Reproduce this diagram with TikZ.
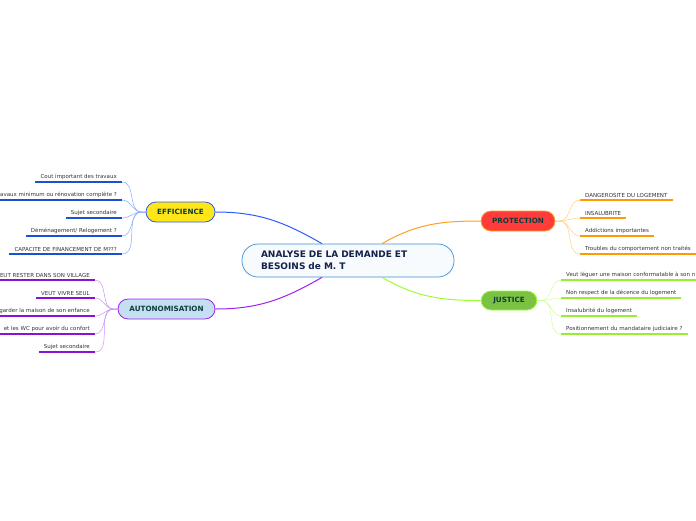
\documentclass[tikz,border=0pt]{standalone}
\usepackage{fontspec}
\setmainfont{DejaVu Sans}
\usepackage{tikz}
\usetikzlibrary{positioning,calc}
\usepackage{xcolor}

\definecolor{effblue}{HTML}{2A5CFF}
\definecolor{effdark}{HTML}{1A4FD6}
\definecolor{efflight}{HTML}{86A8FF}
\definecolor{effyellow}{HTML}{FFE619}
\definecolor{autpurple}{HTML}{A020F0}
\definecolor{autdark}{HTML}{8A12D6}
\definecolor{autlight}{HTML}{CC90F5}
\definecolor{autfill}{HTML}{C5DFF2}
\definecolor{protorange}{HTML}{FFA020}
\definecolor{protdark}{HTML}{FF9A00}
\definecolor{protlight}{HTML}{FFCF85}
\definecolor{protred}{HTML}{FF3B3B}
\definecolor{jusgreen}{HTML}{99FF33}
\definecolor{jusdark}{HTML}{99EE33}
\definecolor{juslight}{HTML}{CCFF99}
\definecolor{jusfill}{HTML}{7CC242}
\definecolor{centerblue}{HTML}{3D8FD6}
\definecolor{centerfill}{HTML}{F7FBFD}
\definecolor{navy}{HTML}{14214D}
\definecolor{teal}{HTML}{0D3D3D}
\definecolor{leaftext}{HTML}{333333}

\tikzset{
    topic/.style={draw,line width=0.8pt,rounded corners=10pt,minimum height=20pt,
        inner sep=0pt,font=\fontsize{7.2}{8}\selectfont\bfseries,text=teal},
    leafL/.style={anchor=south east,inner xsep=5pt,inner ysep=2.5pt,
        font=\fontsize{5.5}{6.5}\selectfont,text=leaftext},
    leafR/.style={anchor=south west,inner xsep=5pt,inner ysep=2.5pt,
        font=\fontsize{5.5}{6.5}\selectfont,text=leaftext}
}

\begin{document}
\begin{tikzpicture}[x=1pt,y=-1pt]
    \useasboundingbox (0,0) rectangle (696,520);
    \clip (0,0) rectangle (696,520);

    % Central topic
    \node[draw=centerblue,fill=centerfill,line width=0.7pt,rounded corners=16pt,
          minimum height=33pt,text width=174pt,inner xsep=19pt,inner ysep=0pt,align=left,
          font=\fontsize{9}{12}\selectfont\bfseries,text=navy] (center) at (348,260.5) {
        ANALYSE DE LA DEMANDE ET\\
        BESOINS de M. T
    };

    % Main topics
    \node[topic,draw=effblue,fill=effyellow,minimum width=69pt] (eff) at (180.5,212) {EFFICIENCE};
    \node[topic,draw=autpurple,fill=autfill,minimum width=97pt] (aut) at (166.5,309) {AUTONOMISATION};
    \node[topic,draw=protorange,fill=protred,minimum width=74pt] (prot) at (518,221) {PROTECTION};
    \node[topic,draw=jusgreen,fill=jusfill,minimum width=56pt,minimum height=19pt] (jus) at (509,300.5) {JUSTICE};

    % Main branches
    \draw[effblue,line width=1pt] ($(center.north)+(-26,0)$) to[out=150,in=0] (eff.east);
    \draw[autpurple,line width=1pt] ($(center.south)+(-26,0)$) to[out=210,in=0] (aut.east);
    \draw[protorange,line width=1pt] ($(center.north)+(34,0)$) to[out=30,in=180] (prot.west);
    \draw[jusgreen,line width=1pt] ($(center.south)+(34,0)$) to[out=-30,in=180] (jus.west);

    % EFFICIENCE leaves
    \node[leafL] (e1) at (122,182) {Cout important des travaux};
    \node[leafL] (e2) at (122,200) {Travaux minimum ou rénovation complète ?};
    \node[leafL] (e3) at (122,218) {Sujet secondaire};
    \node[leafL] (e4) at (122,236) {Déménagement/ Relogement ?};
    \node[leafL] (e5) at (122,254) {CAPACITE DE FINANCEMENT DE M???};
    \foreach \n in {e1,e2,e3,e4,e5} {
        \draw[effdark,line width=1.2pt] (\n.south west) -- (\n.south east);
        \draw[efflight,line width=0.5pt] (eff.west) -- ++(-4,0) to[out=180,in=0] (\n.south east);
    }

    % AUTONOMISATION leaves
    \node[leafL] (a1) at (95,280) {VEUT RESTER DANS SON VILLAGE};
    \node[leafL] (a2) at (95,298) {VEUT VIVRE SEUL};
    \node[leafL] (a3) at (95,316) {Veut garder la maison de son enfance};
    \node[leafL] (a4) at (95,334) {et les WC pour avoir du confort};
    \node[leafL] (a5) at (95,352) {Sujet secondaire};
    \foreach \n in {a1,a2,a3,a4,a5} {
        \draw[autdark,line width=1.2pt] (\n.south west) -- (\n.south east);
        \draw[autlight,line width=0.5pt] (aut.west) -- ++(-4,0) to[out=180,in=0] (\n.south east);
    }

    % PROTECTION leaves
    \node[leafR] (p1) at (580,200) {DANGEROSITE DU LOGEMENT};
    \node[leafR] (p2) at (580,218) {INSALUBRITE};
    \node[leafR] (p3) at (580,236) {Addictions importantes};
    \node[leafR] (p4) at (580,254) {Troubles du comportement non traités};
    \foreach \n in {p1,p2,p3,p4} {
        \draw[protdark,line width=1.2pt] (\n.south west) -- (\n.south east);
        \draw[protlight,line width=0.5pt] (prot.east) -- ++(4,0) to[out=0,in=180] (\n.south west);
    }

    % JUSTICE leaves
    \node[leafR] (j1) at (561,280) {Veut léguer une maison conformatable à son n};
    \node[leafR] (j2) at (561,298) {Non respect de la décence du logement};
    \node[leafR] (j3) at (561,316) {Insalubrité du logement};
    \node[leafR] (j4) at (561,334) {Positionnement du mandataire judiciaire ?};
    \foreach \n in {j1,j2,j3,j4} {
        \draw[jusdark,line width=1.2pt] (\n.south west) -- (\n.south east);
        \draw[juslight,line width=0.5pt] (jus.east) -- ++(4,0) to[out=0,in=180] (\n.south west);
    }
\end{tikzpicture}
\end{document}
